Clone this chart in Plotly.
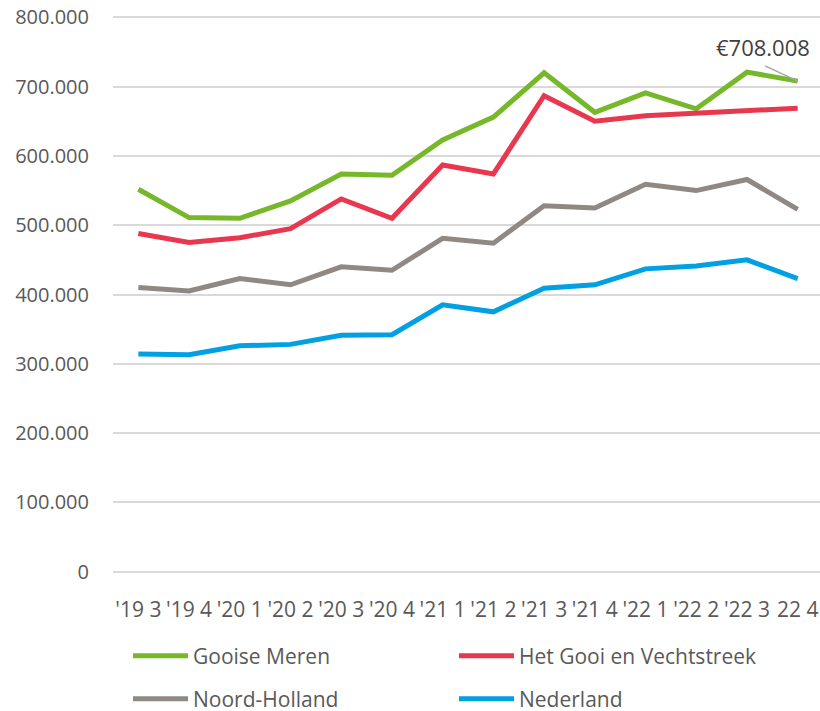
import plotly.graph_objects as go

quarters = ["'19 3", "'19 4", "'20 1", "'20 2", "'20 3", "'20 4", "'21 1",
            "'21 2", "'21 3", "'21 4", "'22 1", "'22 2", "'22 3", "22 4"]

gooise_meren = [552000, 511000, 510000, 535000, 574000, 572000, 623000,
                656000, 720000, 663000, 691000, 668000, 721000, 708008]
het_gooi = [488000, 475000, 482000, 495000, 538000, 510000, 587000,
            574000, 687000, 650000, 658000, 662000, 666000, 669000]
noord_holland = [410000, 405000, 423000, 414000, 440000, 435000, 481000,
                 474000, 528000, 525000, 559000, 550000, 566000, 523000]
nederland = [314000, 313000, 326000, 328000, 341000, 342000, 385000,
             375000, 409000, 414000, 437000, 441000, 450000, 423000]

y_ticks = [0, 100000, 200000, 300000, 400000, 500000, 600000, 700000, 800000]
y_tick_labels = ["0", "100.000", "200.000", "300.000", "400.000",
                 "500.000", "600.000", "700.000", "800.000"]

series = [
    ("Gooise Meren", gooise_meren, "#76B82A", "legend"),
    ("Het Gooi en Vechtstreek", het_gooi, "#E8384F", "legend"),
    ("Noord-Holland", noord_holland, "#8F8883", "legend2"),
    ("Nederland", nederland, "#00A0E3", "legend2"),
]

FONT = "Open Sans"
TXT = "#595959"
W, H = 820, 711

fig = go.Figure()
for name, vals, color, lg in series:
    fig.add_trace(go.Scatter(
        x=quarters, y=vals, name=name, mode="lines",
        line=dict(color=color, width=5),
        legend=lg,
    ))

last_q = quarters[-1]
last_v = gooise_meren[-1]
fig.add_annotation(x=last_q, y=last_v, text="", showarrow=True,
                   arrowhead=0, arrowwidth=1.5, arrowcolor="#A6A6A6",
                   ax=-34, ay=-16, standoff=0)
fig.add_annotation(x=last_q, y=last_v, text="€" + f"{last_v:,}".replace(",", "."),
                   showarrow=False, xshift=-35, yshift=34,
                   font=dict(family=FONT, size=22, color="#404040"))

leg_common = dict(orientation="h", xref="container", yref="container",
                  x=128 / W, xanchor="left", yanchor="middle",
                  itemwidth=55,
                  entrywidth=256, entrywidthmode="pixels",
                  font=dict(family=FONT, size=21, color=TXT),
                  bgcolor="rgba(0,0,0,0)")

fig.update_layout(
    width=W, height=H,
    margin=dict(l=113, r=0, t=15.6, b=137.6, autoexpand=False),
    paper_bgcolor="white", plot_bgcolor="white",
    font=dict(family=FONT, size=20, color=TXT),
    xaxis=dict(type="category", range=[-0.5, 13.44], showgrid=False,
               showline=False, zeroline=False, ticks="", automargin=False,
               ticklabeloverflow="allow",
               tickfont=dict(family=FONT, size=21, color=TXT),
               ticklabelstandoff=22),
    yaxis=dict(range=[-2000, 802000], tickvals=y_ticks, ticktext=y_tick_labels,
               showgrid=True, gridcolor="#D9D9D9", gridwidth=1.5,
               zeroline=False, showline=False, ticks="", automargin=False,
               ticklabeloverflow="allow",
               tickfont=dict(family=FONT, size=20, color=TXT),
               ticklabelstandoff=23),
    legend=dict(leg_common, y=1 - 656 / H),
    legend2=dict(leg_common, y=1 - 699 / H),
    showlegend=True,
)

fig.write_html(
    "out.html",
    config={"displayModeBar": False},
    post_script="document.body.style.margin='0';document.body.style.overflow='hidden';",
)
